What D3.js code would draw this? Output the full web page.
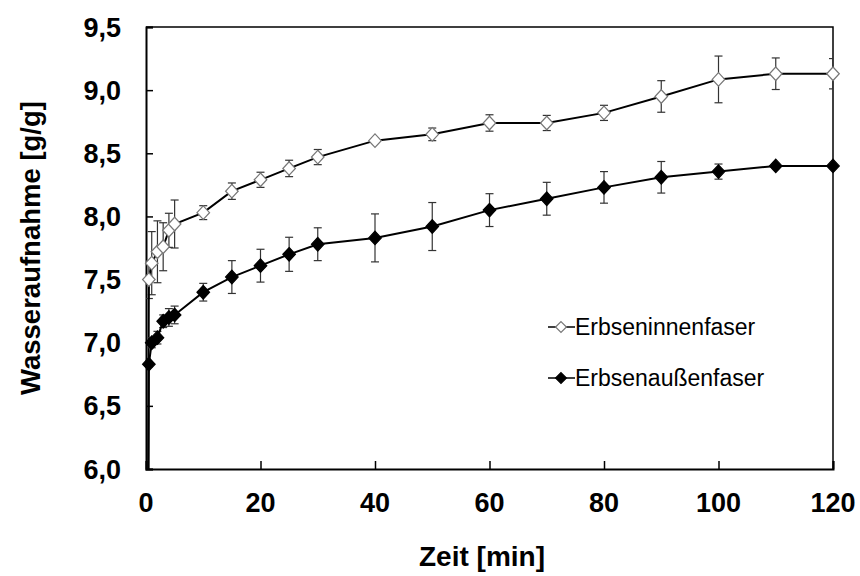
<!DOCTYPE html>
<html><head><meta charset="utf-8">
<script src="https://cdn.jsdelivr.net/npm/d3@7"></script>
<style>body{margin:0;background:#fff;} svg{display:block;font-family:"Liberation Sans",Arial,sans-serif;}</style>
</head><body>
<svg id="c" width="860" height="576"></svg>
<script>
// Data (time in min, water uptake g/g, standard deviation)
const times = [0, 0.5, 1, 2, 3, 4, 5, 10, 15, 20, 25, 30, 40, 50, 60, 70, 80, 90, 100, 110, 120];
const innenValues = [0, 7.50, 7.63, 7.72, 7.76, 7.89, 7.94, 8.03, 8.20, 8.29, 8.38, 8.47, 8.60, 8.65, 8.74, 8.74, 8.82, 8.95, 9.085, 9.13, 9.13];
const innenErr    = [0, 0.15, 0.25, 0.245, 0.19, 0.135, 0.19, 0.055, 0.065, 0.06, 0.065, 0.06, 0.02, 0.05, 0.065, 0.06, 0.06, 0.125, 0.185, 0.125, 0.12];
const aussenValues = [0, 6.83, 7.00, 7.04, 7.17, 7.20, 7.22, 7.40, 7.52, 7.61, 7.70, 7.78, 7.83, 7.92, 8.05, 8.14, 8.23, 8.31, 8.355, 8.40, 8.40];
const aussenErr    = [0, 0.02, 0.04, 0.05, 0.05, 0.07, 0.07, 0.07, 0.13, 0.13, 0.135, 0.13, 0.19, 0.19, 0.13, 0.13, 0.125, 0.125, 0.06, 0.01, 0.01];
const xTicks = [0, 20, 40, 60, 80, 100, 120];
const yTicks = [6.0, 6.5, 7.0, 7.5, 8.0, 8.5, 9.0, 9.5];
const seriesNames = ["Erbseninnenfaser", "Erbsenaußenfaser"];

const svg = d3.select("#c");
const L = 146, R = 833, T = 27, B = 469;
const x = d3.scaleLinear().domain([0, 120]).range([L, R]);
const y = d3.scaleLinear().domain([6, 9.5]).range([B, T]);

svg.append("defs").append("clipPath").attr("id", "clip")
  .append("rect").attr("x", L).attr("y", T).attr("width", R - L).attr("height", B - T);

// axes with inward ticks
const fmtY = d => d.toFixed(1).replace(".", ",");
const xAxis = svg.append("g").attr("transform", `translate(0,${B})`)
  .call(d3.axisTop(x).tickValues(xTicks).tickSize(8).tickFormat(""));
const yAxis = svg.append("g").attr("transform", `translate(${L},0)`)
  .call(d3.axisRight(y).tickValues(yTicks).tickSize(7).tickFormat(""));
[xAxis, yAxis].forEach(g => {
  g.selectAll("path").attr("stroke", "#000").attr("stroke-width", 2);
  g.selectAll("line").attr("stroke", "#000").attr("stroke-width", 1.5);
});
// frame top/right
svg.append("path").attr("d", `M${L},${T}H${R}V${B}`).attr("fill", "none").attr("stroke", "#000").attr("stroke-width", 1.5);

// tick labels
svg.append("g").selectAll("text").data(xTicks).join("text")
  .attr("x", d => x(d)).attr("y", 512).attr("text-anchor", "middle")
  .attr("font-size", 27).attr("font-weight", "bold").attr("fill", "#000").text(d => d);
svg.append("g").selectAll("text").data(yTicks).join("text")
  .attr("x", 121).attr("y", d => y(d) + 9.5).attr("text-anchor", "end")
  .attr("font-size", 27).attr("font-weight", "bold").attr("fill", "#000").text(fmtY);

// axis titles
svg.append("text").attr("x", 482).attr("y", 566).attr("text-anchor", "middle")
  .attr("font-size", 28).attr("font-weight", "bold").text("Zeit [min]");
svg.append("text").attr("transform", "translate(40,248) rotate(-90)").attr("text-anchor", "middle")
  .attr("font-size", 27.5).attr("font-weight", "bold").text("Wasseraufnahme [g/g]");

const series = [
  {name: seriesNames[0], v: innenValues, e: innenErr, fill: "#fff", stroke: "#777"},
  {name: seriesNames[1], v: aussenValues, e: aussenErr, fill: "#000", stroke: "#000"}
];
const plot = svg.append("g").attr("clip-path", "url(#clip)");
const line = d3.line().x(d => x(d.t)).y(d => y(d.v));
const diamond = d3.symbol().type(d3.symbolDiamond2).size(100);

series.forEach(s => {
  const pts = times.map((t, i) => ({t, v: s.v[i], e: s.e[i]}));
  const shown = pts.filter(p => p.t > 0);
  // error bars
  const eb = plot.append("g").attr("stroke", "#333").attr("stroke-width", 1.2);
  shown.forEach(p => {
    if (p.e < 0.015) return;
    const cx = x(p.t), y1 = y(p.v + p.e), y2 = y(p.v - p.e);
    eb.append("line").attr("x1", cx).attr("x2", cx).attr("y1", y1).attr("y2", y2);
    eb.append("line").attr("x1", cx - 4).attr("x2", cx + 4).attr("y1", y1).attr("y2", y1);
    eb.append("line").attr("x1", cx - 4).attr("x2", cx + 4).attr("y1", y2).attr("y2", y2);
  });
  plot.append("path").datum(pts).attr("d", line).attr("fill", "none").attr("stroke", "#000").attr("stroke-width", 2);
  svg.append("g").selectAll("path").data(shown).join("path")
    .attr("transform", p => `translate(${x(p.t)},${y(p.v)}) scale(1,1.08)`)
    .attr("d", diamond).attr("fill", s.fill).attr("stroke", s.stroke).attr("stroke-width", 1.2);
});

// legend
const leg = svg.append("g");
series.forEach((s, i) => {
  const ly = 327 + i * 51;
  leg.append("line").attr("x1", 548).attr("x2", 575).attr("y1", ly).attr("y2", ly).attr("stroke", "#000").attr("stroke-width", 1.5);
  leg.append("path").attr("transform", `translate(561,${ly})`)
    .attr("d", d3.symbol().type(d3.symbolDiamond2).size(75)).attr("fill", s.fill).attr("stroke", s.stroke).attr("stroke-width", 1.2);
  leg.append("text").attr("x", 575).attr("y", ly + 8).attr("font-size", 23).attr("fill", "#000").text(s.name);
});
</script>
</body></html>
